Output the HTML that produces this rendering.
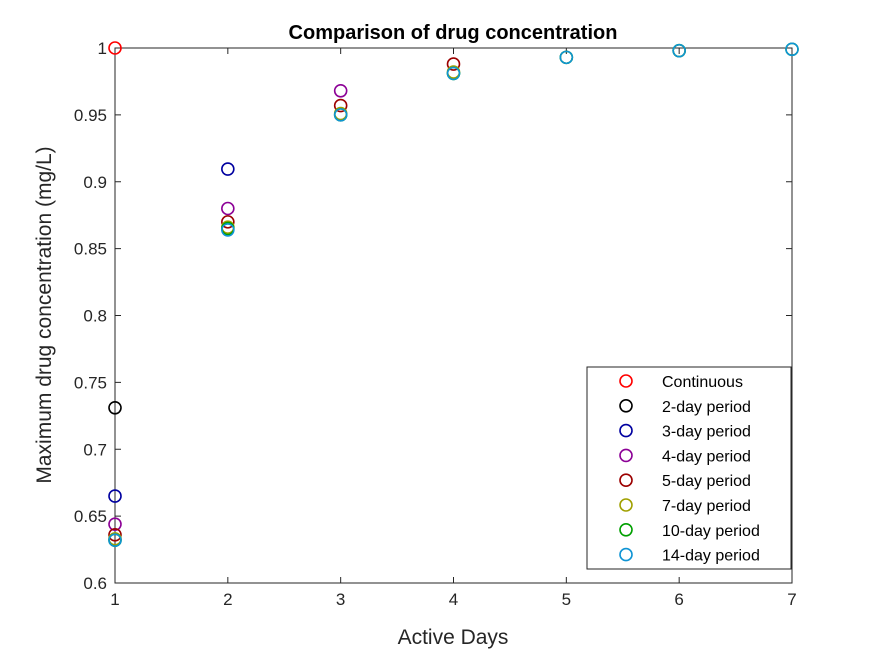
<!DOCTYPE html>
<html><head><meta charset="utf-8"><style>
body{margin:0;background:#fff}
svg text{font-family:"Liberation Sans",Arial,sans-serif}
</style></head><body>
<svg id="chart" width="875" height="656" xmlns="http://www.w3.org/2000/svg">
<rect width="875" height="656" fill="#fff"/>
<g id="axes"></g><g id="marks"></g><g id="legend"></g>
</svg>
<script>
const xTicks=[1,2,3,4,5,6,7];
const yTicks=[0.6,0.65,0.7,0.75,0.8,0.85,0.9,0.95,1];
const yTickLabels=["0.6","0.65","0.7","0.75","0.8","0.85","0.9","0.95","1"];
const seriesNames=["Continuous","2-day period","3-day period","4-day period","5-day period","7-day period","10-day period","14-day period"];
const seriesColors=["#ff0000","#000000","#0000a0","#8c0096","#9c0000","#a0a000","#00a000","#0f94d4"];
const sContinuous=[1.0];
const s2day=[0.731];
const s3day=[0.665,0.9095];
const s4day=[0.644,0.880,0.968];
const s5day=[0.636,0.870,0.957,0.988];
const s7day=[0.633,0.866,0.951,0.982,0.993,0.998];
const s10day=[0.632,0.865,0.950,0.981,0.993,0.998,0.999];
const s14day=[0.632,0.864,0.950,0.981,0.993,0.998,0.999];
const seriesValues=[sContinuous,s2day,s3day,s4day,s5day,s7day,s10day,s14day];

const L=115,R=792,T=48,B=583;
const xs=d=>L+(d-1)/6*(R-L);
const ys=v=>B-(v-0.6)/0.4*(B-T);
const NS="http://www.w3.org/2000/svg";
function mk(tag,attrs,parent,text){const e=document.createElementNS(NS,tag);for(const k in attrs)e.setAttribute(k,attrs[k]);if(text!==undefined)e.textContent=text;parent.appendChild(e);return e;}
const ax=document.getElementById('axes');
const box=mk('rect',{x:L,y:T,width:R-L,height:B-T,fill:'none',stroke:'#262626','stroke-width':1},ax);


xTicks.forEach(t=>{const x=xs(t);
 mk('line',{x1:x,x2:x,y1:B,y2:B-6,stroke:'#262626'},ax);
 mk('line',{x1:x,x2:x,y1:T,y2:T+6,stroke:'#262626'},ax);
 const tx=mk('text',{x:x,y:B+22,'text-anchor':'middle','font-size':17,fill:'#262626'},ax,String(t));
 
 });
yTicks.forEach((t,i)=>{const y=ys(t);
 mk('line',{x1:L,x2:L+6,y1:y,y2:y,stroke:'#262626'},ax);
 mk('line',{x1:R,x2:R-6,y1:y,y2:y,stroke:'#262626'},ax);
 const tx=mk('text',{x:L-8,y:y+6,'text-anchor':'end','font-size':17,fill:'#262626'},ax,yTickLabels[i]);
 
 });
const ttl=mk('text',{x:453,y:39,'text-anchor':'middle','font-size':20,'font-weight':'bold',fill:'#000'},ax,'Comparison of drug concentration');


const xt=mk('text',{x:453,y:644,'text-anchor':'middle','font-size':21,fill:'#262626'},ax,'Active Days');


const yt=mk('text',{x:0,y:0,'text-anchor':'middle','font-size':21,fill:'#262626',transform:'translate(51,315) rotate(-90)'},ax,'Maximum drug concentration (mg/L)');


const mg=document.getElementById('marks');
seriesValues.forEach((vals,si)=>{vals.forEach((v,j)=>{
 const c=mk('circle',{cx:xs(j+1),cy:ys(v),r:6,fill:'none',stroke:seriesColors[si],'stroke-width':1.6},mg);
 
 });});
const lg=document.getElementById('legend');
const lb=mk('rect',{x:587,y:367,width:204,height:202,fill:'#fff',stroke:'#262626','stroke-width':1},lg);


seriesNames.forEach((n,i)=>{const y=381+i*24.8;
 const c=mk('circle',{cx:626,cy:y,r:6,fill:'none',stroke:seriesColors[i],'stroke-width':1.6},lg);
 
 
 const t=mk('text',{x:662,y:y+6,'font-size':16,fill:'#000'},lg,n);
 
 });
</script>
</body></html>
